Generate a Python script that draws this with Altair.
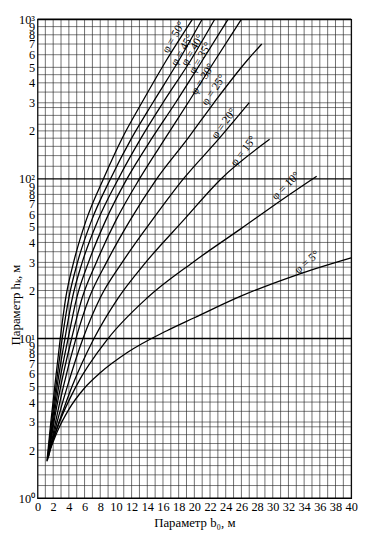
import altair as alt
import pandas as pd

# ---- curve data: parameter b0 (m) vs parameter hk (m) for each friction angle phi ----
phi_names = ["φ = 50°", "φ = 45°", "φ = 40°", "φ = 35°", "φ = 30°",
             "φ = 25°", "φ = 20°", "φ = 15°", "φ = 10°", "φ = 5°"]

b_phi50 = [1.2, 1.7, 2.2, 2.9, 3.6, 4.6, 6.2, 8.4, 10.8, 13.3, 16.4, 19.75]
h_phi50 = [1.7, 3, 5, 10, 18, 30, 55, 100, 180, 300, 550, 1000]

b_phi45 = [1.25, 1.8, 2.35, 3.15, 4.0, 5.1, 6.9, 9.3, 12.0, 14.7, 18.0, 21.0]
h_phi45 = [1.72, 3, 5, 10, 18, 30, 55, 100, 180, 300, 550, 1000]

b_phi40 = [1.3, 1.9, 2.5, 3.5, 4.45, 5.7, 7.7, 10.3, 13.2, 16.0, 19.5, 22.6]
h_phi40 = [1.75, 3, 5, 10, 18, 30, 55, 100, 180, 300, 550, 1000]

b_phi35 = [1.35, 2.0, 2.7, 3.9, 5.0, 6.5, 8.7, 11.4, 14.6, 17.6, 21.0, 24.3]
h_phi35 = [1.78, 3, 5, 10, 18, 30, 55, 100, 180, 300, 550, 1000]

b_phi30 = [1.4, 2.1, 2.95, 4.35, 5.7, 7.5, 10.0, 13.0, 16.3, 19.2, 22.6, 26.0]
h_phi30 = [1.8, 3, 5, 10, 18, 30, 55, 100, 180, 300, 550, 1000]

b_phi25 = [1.45, 2.3, 3.3, 4.9, 6.6, 8.8, 11.8, 15.2, 19.2, 22.5, 26.7, 28.6]
h_phi25 = [1.85, 3, 5, 10, 18, 30, 55, 100, 180, 300, 550, 700]

b_phi20 = [1.5, 2.5, 3.8, 5.8, 8.0, 10.8, 14.6, 18.6, 23.2, 27.0]
h_phi20 = [1.9, 3, 5, 10, 18, 30, 55, 100, 180, 300]

b_phi15 = [1.5, 2.75, 4.4, 7.2, 10.3, 13.8, 18.6, 23.4, 29.6]
h_phi15 = [2.0, 3, 5, 10, 18, 30, 55, 100, 177]

b_phi10 = [1.55, 2.8, 4.9, 9.0, 14.0, 19.8, 26.0, 31.5, 35.6]
h_phi10 = [2.0, 3, 5, 10, 18, 30, 49, 76, 104]

b_phi5 = [1.6, 2.5, 4, 6, 8, 11.5, 16.5, 20, 26, 33, 40]
h_phi5 = [2.0, 2.6, 3.6, 4.9, 6.1, 8.2, 11.2, 13.5, 18.5, 25, 32]

# curve label anchor points (data coordinates)
label_b = [17.4, 18.5, 19.8, 20.8, 21.1, 22.5, 23.8, 26.3, 31.7, 34.4]
label_h = [770, 640, 640, 570, 420, 360, 222, 149, 90, 30]

# axis tick values
x_ticks = list(range(0, 41, 2))
y_ticks = [1, 2, 3, 4, 5, 6, 7, 8, 9,
           10, 20, 30, 40, 50, 60, 70, 80, 90,
           100, 200, 300, 400, 500, 600, 700, 800, 900, 1000]

# grid line positions
b_grid = list(range(0, 41))
h_grid_minor = [1.2, 1.4, 1.6, 1.8, 2, 2.2, 2.5, 2.8, 3, 3.5, 4, 4.5, 5, 6, 7, 8, 9,
                12, 14, 16, 18, 20, 22, 25, 28, 30, 35, 40, 45, 50, 60, 70, 80, 90,
                120, 140, 160, 180, 200, 220, 250, 280, 300, 350, 400, 450, 500, 600, 700, 800, 900]
h_grid_major = [1, 10, 100, 1000]

# label rotation (style)
label_angle = [300, 300, 300, 300, 302, 304, 306, 308, 315, 320]

# ---- build tables ----
curve_sets = [
    (phi_names[0], b_phi50, h_phi50),
    (phi_names[1], b_phi45, h_phi45),
    (phi_names[2], b_phi40, h_phi40),
    (phi_names[3], b_phi35, h_phi35),
    (phi_names[4], b_phi30, h_phi30),
    (phi_names[5], b_phi25, h_phi25),
    (phi_names[6], b_phi20, h_phi20),
    (phi_names[7], b_phi15, h_phi15),
    (phi_names[8], b_phi10, h_phi10),
    (phi_names[9], b_phi5, h_phi5),
]
rows = []
for name, bs, hs in curve_sets:
    for b, h in zip(bs, hs):
        rows.append({"phi": name, "b": b, "h": h})
df = pd.DataFrame(rows)

lab_df = pd.DataFrame({"text": phi_names, "b": label_b, "h": label_h, "angle": label_angle})

x_scale = alt.Scale(domain=[0, 40], nice=False, zero=False)
y_scale = alt.Scale(type="log", domain=[1, 1000], nice=False)

FONT = "Liberation Serif"

label_expr = ("datum.value == 1 ? '10⁰' : datum.value == 10 ? '10¹' : "
              "datum.value == 100 ? '10²' : datum.value == 1000 ? '10³' : "
              "substring(datum.label, 0, 1)")

x_axis = alt.Axis(
    values=x_ticks, ticks=False, domain=False, grid=False,
    labelOverlap=False, labelFlush=False,
    labelFont=FONT, labelFontSize=12.5, labelColor="black", labelPadding=3,
    title="Параметр b₀, м", titleFont=FONT, titleFontSize=13,
    titleFontWeight="normal", titleColor="black", titlePadding=3)

y_axis = alt.Axis(
    values=y_ticks, ticks=False, domain=False, grid=False,
    labelExpr=label_expr, labelOverlap=False, labelFlush=False,
    labelFont=FONT, labelFontSize=12.5, labelColor="black", labelPadding=3,
    title="Параметр hₖ, м", titleFont=FONT, titleFontSize=13,
    titleFontWeight="normal", titleColor="black",
    titleAngle=270, titleX=-22, titleY=290, titleBaseline="middle")

vgrid = alt.Chart(pd.DataFrame({"b": b_grid})).mark_rule(
    color="#1e1e1e", strokeWidth=0.8, opacity=0.8
).encode(x=alt.X("b:Q", scale=x_scale, axis=x_axis, title="Параметр b₀, м"))

hgrid = alt.Chart(pd.DataFrame({"h": h_grid_minor})).mark_rule(
    color="#1e1e1e", strokeWidth=0.8, opacity=0.75
).encode(y=alt.Y("h:Q", scale=y_scale, axis=y_axis, title="Параметр hₖ, м"))

hgrid_major = alt.Chart(pd.DataFrame({"h": h_grid_major})).mark_rule(
    color="black", strokeWidth=1.4
).encode(y=alt.Y("h:Q", scale=y_scale, axis=y_axis, title="Параметр hₖ, м"))

lines = alt.Chart(df).mark_line(
    color="black", strokeWidth=1.3, interpolate="monotone"
).encode(
    x=alt.X("b:Q", scale=x_scale, axis=x_axis, title="Параметр b₀, м"),
    y=alt.Y("h:Q", scale=y_scale, axis=y_axis, title="Параметр hₖ, м"),
    detail="phi:N",
)

labels = alt.Chart(lab_df).mark_text(
    font=FONT, fontSize=11.5, color="black", align="center", baseline="middle"
).encode(
    x=alt.X("b:Q", scale=x_scale, axis=x_axis, title="Параметр b₀, м"),
    y=alt.Y("h:Q", scale=y_scale, axis=y_axis, title="Параметр hₖ, м"),
    text="text:N",
    angle=alt.Angle("angle:Q", scale=None),
)

chart = alt.layer(vgrid, hgrid, hgrid_major, lines, labels).properties(
    width=319, height=487,
    autosize=alt.AutoSizeParams(type="none"),
    padding={"left": 30, "top": 7, "right": 11, "bottom": 36},
    background="white",
).configure_view(stroke="black", strokeWidth=1.2)

chart.save("out.html", embed_options={"renderer": "svg", "actions": False})
